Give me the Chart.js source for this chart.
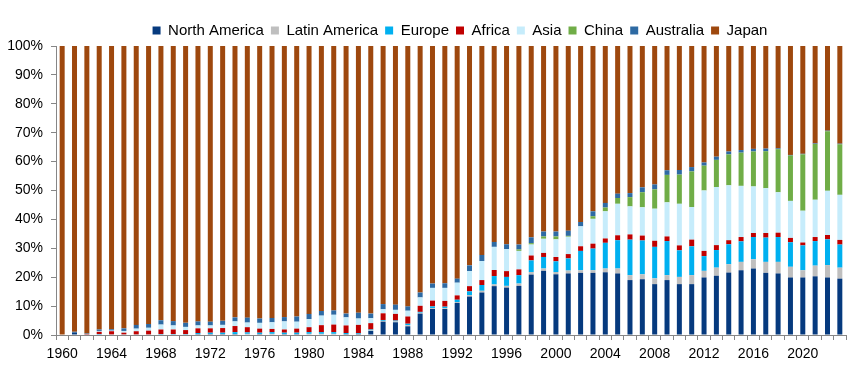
<!DOCTYPE html>
<html>
<head>
<meta charset="utf-8">
<script src="https://cdn.jsdelivr.net/npm/chart.js@4"></script>
<style>
  html, body { margin: 0; padding: 0; background: #fff; }
  #c { display: block; }
</style>
</head>
<body>
<canvas id="c" width="865" height="367"></canvas>
<script>
// years 1960..2023
const years = [
  1960, 1961, 1962, 1963, 1964, 1965, 1966, 1967, 1968, 1969,
  1970, 1971, 1972, 1973, 1974, 1975, 1976, 1977, 1978, 1979,
  1980, 1981, 1982, 1983, 1984, 1985, 1986, 1987, 1988, 1989,
  1990, 1991, 1992, 1993, 1994, 1995, 1996, 1997, 1998, 1999,
  2000, 2001, 2002, 2003, 2004, 2005, 2006, 2007, 2008, 2009,
  2010, 2011, 2012, 2013, 2014, 2015, 2016, 2017, 2018, 2019,
  2020, 2021, 2022, 2023
];

// shares in %
const northAmerica = [
  0, 0.8, 0, 0, 0, 0, 0, 0, 0, 0,
  0, 0.1, 0.1, 0.1, 0.1, 0.2, 0.1, 0.2, 0.1, 0.1,
  0.2, 0.2, 0.2, 0.1, 0.1, 1.4, 4.6, 4.4, 3.0, 7.4,
  9.0, 9.0, 11.1, 13.3, 14.7, 16.9, 16.4, 17.0, 20.9, 22.2,
  21.0, 21.3, 21.5, 21.5, 21.7, 21.3, 19.0, 19.3, 17.6, 19.0,
  17.6, 17.6, 19.9, 20.5, 21.6, 22.4, 23.0, 21.5, 21.3, 19.9,
  19.9, 20.3, 19.9, 19.5
];
const latinAmerica = [
  0, 0, 0, 0, 0, 0, 0, 0, 0, 0,
  0, 0.2, 0.2, 0.2, 0.2, 0.2, 0.2, 0.2, 0.2, 0.2,
  0.2, 0.2, 0.2, 0.2, 0.2, 0.2, 0.3, 0.3, 0.4, 0.3,
  0.3, 0.3, 0.3, 0.5, 0.6, 0.6, 0.6, 0.8, 0.9, 0.8,
  0.8, 1.0, 0.9, 0.9, 1.3, 1.7, 1.7, 1.7, 2.0, 1.7,
  2.5, 3.1, 2.3, 2.8, 2.9, 2.9, 3.2, 3.8, 4.0, 3.7,
  2.5, 3.7, 4.3, 3.8
];
const europe = [
  0, 0, 0, 0.3, 0.2, 0.2, 0.2, 0.2, 0.3, 0.3,
  0.3, 0.4, 0.5, 0.5, 0.7, 0.5, 0.5, 0.6, 0.5, 0.5,
  0.6, 0.6, 0.6, 0.4, 0.3, 0.3, 0.3, 0.3, 0.5, 0.3,
  0.6, 0.5, 0.8, 1.3, 2.0, 2.9, 3.1, 2.9, 4.0, 4.0,
  3.7, 4.2, 6.7, 7.5, 8.9, 9.8, 12.3, 11.7, 10.9, 11.8,
  9.2, 10.0, 5.1, 6.1, 6.9, 7.1, 7.7, 8.4, 8.6, 8.5,
  8.6, 8.5, 8.9, 8.0
];
const africa = [
  0, 0, 0.3, 0.8, 1.1, 0.6, 1.1, 1.3, 1.6, 1.6,
  1.4, 1.6, 1.5, 1.6, 2.1, 1.8, 1.4, 1.1, 1.1, 1.4,
  1.7, 2.4, 2.6, 2.6, 2.9, 2.2, 2.3, 2.3, 2.5, 2.1,
  2.0, 2.0, 1.5, 1.8, 1.7, 2.1, 2.0, 2.0, 1.7, 1.4,
  1.5, 1.5, 1.6, 1.7, 1.5, 1.7, 1.8, 1.7, 2.1, 1.6,
  1.7, 2.3, 1.8, 1.7, 1.4, 1.5, 1.4, 1.6, 1.5, 1.5,
  1.0, 1.4, 1.5, 1.6
];
const asia = [
  0, 0, 0, 0.3, 0.2, 0.6, 0.9, 1.0, 1.7, 1.4,
  1.1, 1.0, 1.0, 1.1, 1.6, 1.6, 2.0, 2.3, 2.8, 2.4,
  2.8, 3.3, 3.4, 2.8, 2.2, 1.7, 1.4, 1.4, 2.0, 2.9,
  4.4, 4.5, 4.4, 5.2, 6.6, 8.0, 7.6, 6.4, 3.8, 4.9,
  6.1, 6.0, 6.9, 8.6, 9.4, 10.9, 9.7, 9.8, 11.1, 11.8,
  14.4, 11.3, 20.9, 20.1, 19.0, 17.7, 16.1, 15.5, 14.0, 12.8,
  11.0, 12.9, 15.3, 15.6
];
const china = [
  0, 0, 0, 0, 0, 0, 0, 0, 0, 0,
  0, 0, 0, 0, 0, 0, 0, 0, 0, 0,
  0, 0, 0, 0, 0, 0, 0, 0, 0, 0,
  0, 0, 0, 0, 0, 0, 0, 0.5, 0.5, 0.8,
  1.0, 0.3, 0, 0.9, 1.3, 2.0, 3.2, 5.2, 6.7, 9.5,
  10.1, 12.3, 8.6, 9.4, 10.7, 11.5, 12.1, 12.8, 14.9, 15.7,
  19.5, 19.3, 20.6, 17.5
];
const australia = [
  0, 0.3, 0.2, 0.5, 0.5, 0.9, 1.3, 1.3, 1.5, 1.5,
  1.4, 1.4, 1.3, 1.4, 1.4, 1.7, 1.5, 1.5, 1.5, 1.8,
  1.8, 1.6, 1.5, 1.3, 2.0, 1.6, 1.8, 1.8, 1.5, 1.7,
  1.5, 1.6, 1.4, 2.0, 2.1, 1.7, 1.7, 1.7, 2.0, 1.7,
  1.7, 1.8, 1.5, 1.7, 1.6, 1.5, 1.4, 1.7, 1.7, 1.6,
  1.6, 1.5, 1.1, 1.1, 1.0, 0.9, 0.9, 0.9, 0.3, 0.2,
  0.2, 0.2, 0.2, 0.2
];
const japan = [
  100, 98.9, 99.5, 98.1, 98.0, 97.7, 96.5, 96.2, 94.9, 95.2,
  95.8, 95.3, 95.4, 95.1, 93.9, 94.0, 94.3, 94.1, 93.8, 93.6,
  92.7, 91.7, 91.5, 92.6, 92.3, 92.6, 89.3, 89.5, 90.1, 85.3,
  82.2, 82.1, 80.5, 75.9, 72.3, 67.8, 68.6, 68.7, 66.2, 64.2,
  64.2, 63.9, 60.9, 57.2, 54.3, 51.1, 50.9, 48.9, 47.9, 43.0,
  42.9, 41.9, 40.3, 38.3, 36.5, 36.0, 35.6, 35.5, 35.4, 37.7,
  37.3, 33.7, 29.3, 33.8
];

const yTicks = [0, 10, 20, 30, 40, 50, 60, 70, 80, 90, 100];

const series = [
  { label: 'North America', data: northAmerica, color: '#063a7e' },
  { label: 'Latin America', data: latinAmerica, color: '#bfbfbf' },
  { label: 'Europe', data: europe, color: '#00b0f0' },
  { label: 'Africa', data: africa, color: '#c00000' },
  { label: 'Asia', data: asia, color: '#c6ecfb' },
  { label: 'China', data: china, color: '#70ad47' },
  { label: 'Australia', data: australia, color: '#2e6aa3' },
  { label: 'Japan', data: japan, color: '#9e480e' }
];

const axisColor = '#868686';
const font = { family: '"Liberation Sans", Arial, sans-serif', size: 14 };

// legend in the original sits centred over the plot, not the canvas
const legendShift = {
  id: 'legendShift',
  afterLayout(chart) {
    const lg = chart.legend;
    if (!lg) return;
    lg.left += 37;
    lg.right += 37;
    lg.top += 2;
    lg.bottom += 2;
  }
};

new Chart(document.getElementById('c').getContext('2d'), {
  type: 'bar',
  data: {
    labels: years,
    datasets: series.map(s => ({
      label: s.label,
      data: s.data,
      backgroundColor: s.color,
      borderWidth: 0,
      barPercentage: 0.45,
      categoryPercentage: 0.9
    }))
  },
  plugins: [legendShift],
  options: {
    responsive: false,
    devicePixelRatio: 1,
    animation: false,
    layout: { padding: { top: 14, right: 19, bottom: 0, left: 0 } },
    plugins: {
      legend: {
        position: 'top',
        labels: {
          boxWidth: 8,
          boxHeight: 8,
          padding: 7,
          color: '#000',
          font: { family: font.family, size: 15 }
        }
      },
      tooltip: { enabled: false }
    },
    scales: {
      x: {
        stacked: true,
        grid: { display: true, drawOnChartArea: false, offset: true, tickLength: 5, color: axisColor },
        border: { display: true, color: axisColor },
        afterFit: s => { s.height = 32; },
        ticks: {
          autoSkip: false,
          maxRotation: 0,
          padding: 6,
          color: '#000',
          font: font,
          callback: (v, i) => (years[i] % 4 === 0 ? String(years[i]) : '')
        }
      },
      y: {
        stacked: true,
        min: 0,
        max: 100,
        afterFit: s => { s.width = 56; },
        afterBuildTicks: s => { s.ticks = yTicks.map(v => ({ value: v })); },
        grid: { display: true, drawOnChartArea: false, tickLength: 5, color: axisColor },
        border: { display: true, color: axisColor },
        ticks: {
          padding: 8,
          color: '#000',
          font: font,
          callback: v => v + '%'
        }
      }
    }
  }
});
</script>
</body>
</html>
